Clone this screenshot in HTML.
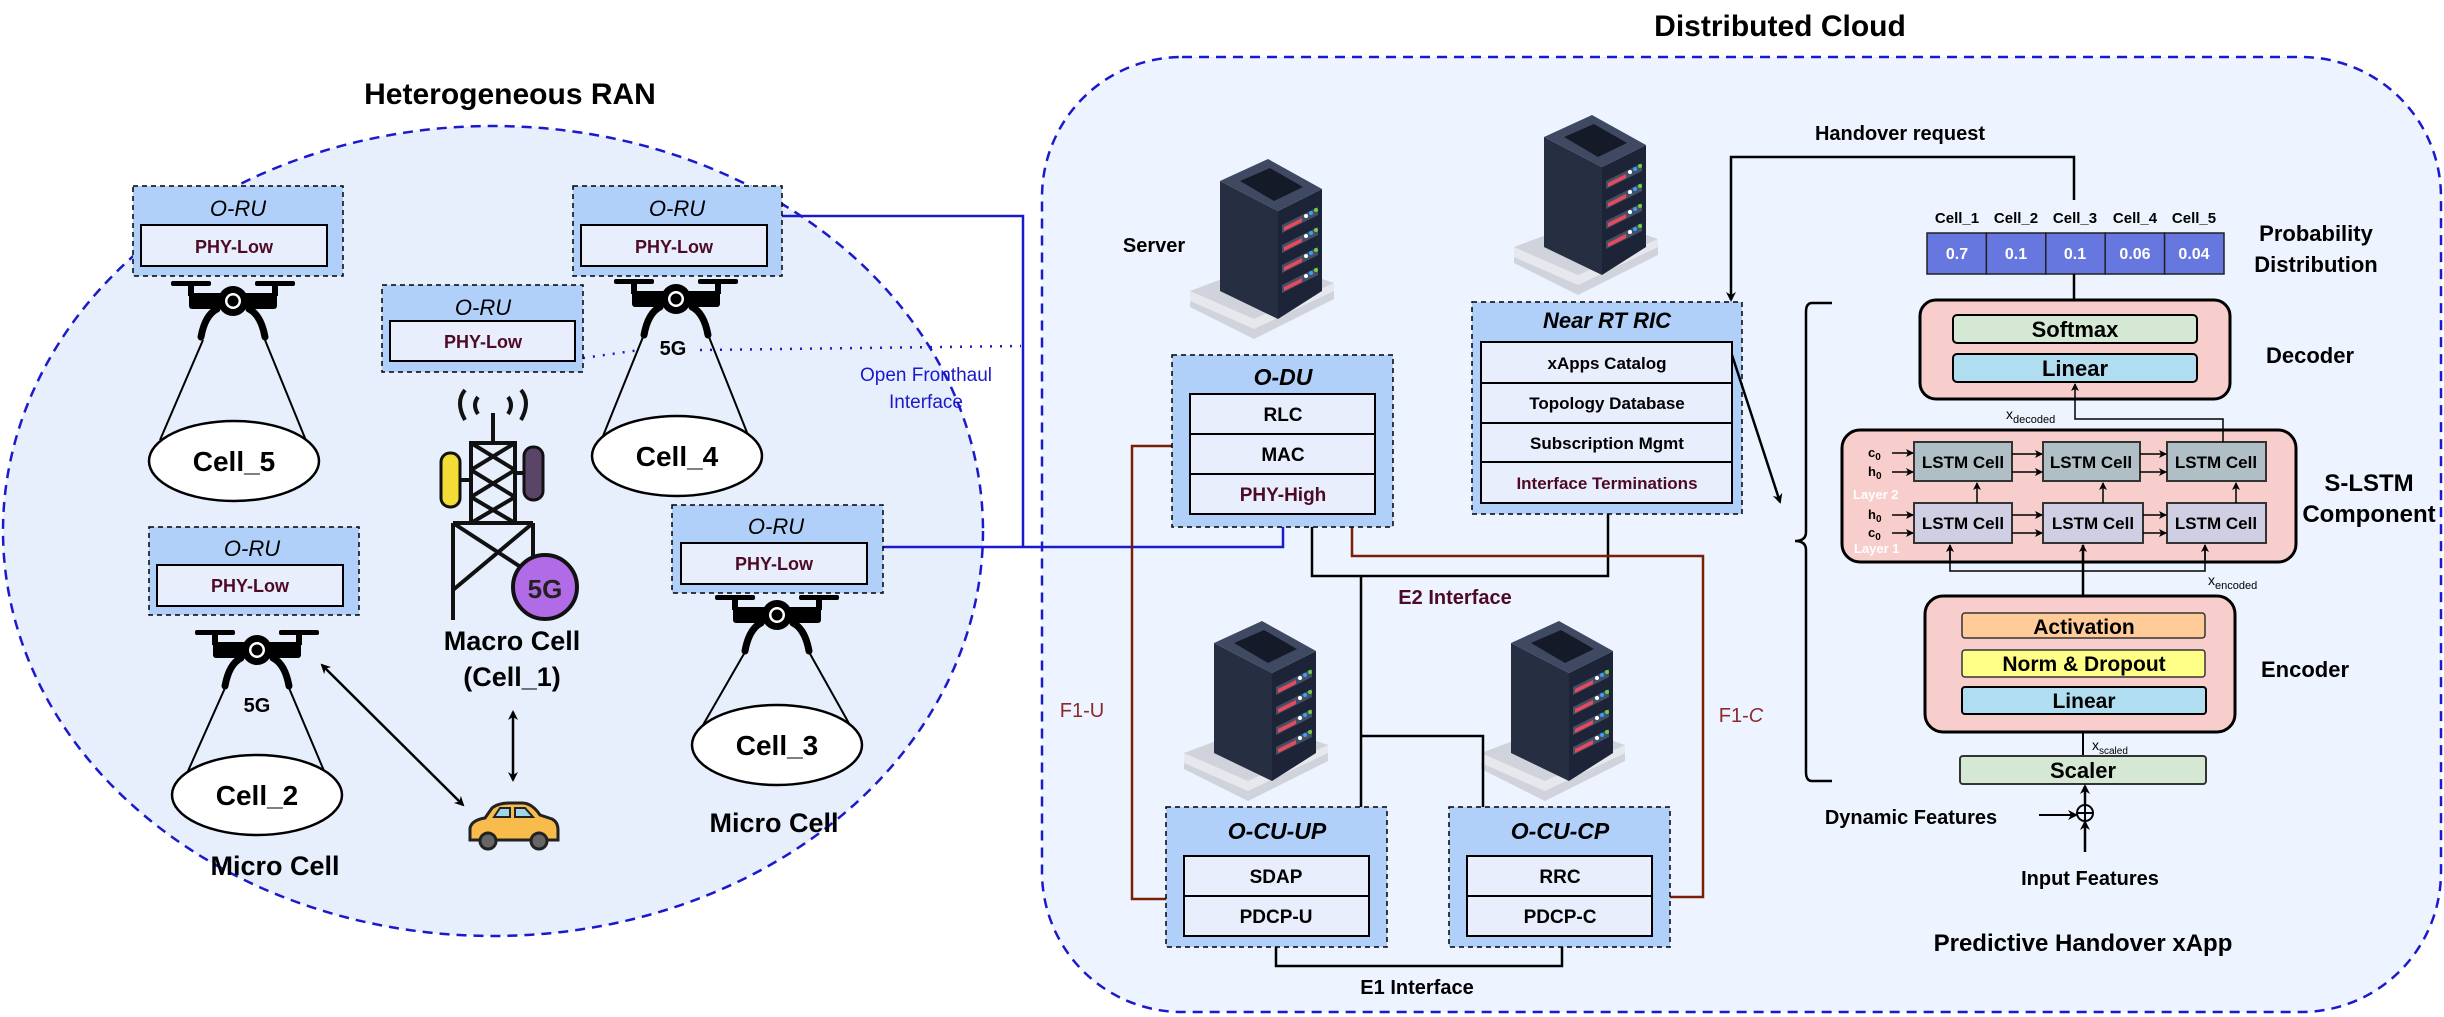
<!DOCTYPE html>
<html><head><meta charset="utf-8"><style>
html,body{margin:0;padding:0;background:#fff;}
svg{display:block;}
text{font-family:"Liberation Sans",sans-serif;}
</style></head><body>
<svg width="2444" height="1017" viewBox="0 0 2444 1017" xmlns="http://www.w3.org/2000/svg">
<defs>
<marker id="ah" markerWidth="10" markerHeight="10" refX="8" refY="5" orient="auto-start-reverse" markerUnits="userSpaceOnUse"><path d="M0,0 L10,5 L0,10 L3,5 z" fill="#000"/></marker>
<marker id="ahs" markerWidth="8" markerHeight="8" refX="7" refY="4" orient="auto" markerUnits="userSpaceOnUse"><path d="M0,0 L8,4 L0,8 L2,4 z" fill="#000"/></marker>
<g id="server">
 <polygon points="0,150 80,120 144,142 144,158 64,198 0,166" fill="#d0d3dc"/>
 <polygon points="0,150 64,178 144,142 144,150 64,188 0,160" fill="#e6e8ee"/>
 <polygon points="30,40 30,150 88,178 88,70" fill="#262e42"/>
 <polygon points="88,70 132,48 132,150 88,178" fill="#1e2438"/>
 <polygon points="30,40 78,18 132,48 88,70" fill="#3f4a62"/>
 <polygon points="50,40 80,27 113,46 84,60" fill="#151a28"/>
 <g>
  <polygon points="92,84 128,66 128,74 92,92" fill="#454f66"/>
  <polygon points="92,104 128,86 128,94 92,112" fill="#454f66"/>
  <polygon points="92,124 128,106 128,114 92,132" fill="#454f66"/>
  <polygon points="92,144 128,126 128,134 92,152" fill="#454f66"/>
  <polygon points="94,86 112,77 112,81 94,90" fill="#e8495b"/>
  <polygon points="94,106 112,97 112,101 94,110" fill="#e8495b"/>
  <polygon points="94,126 112,117 112,121 94,130" fill="#e8495b"/>
  <polygon points="94,146 112,137 112,141 94,150" fill="#e8495b"/>
  <circle cx="116" cy="75" r="2" fill="#fff"/><circle cx="121" cy="72" r="2" fill="#3aa0f0"/><circle cx="126" cy="69" r="2" fill="#6fd048"/>
  <circle cx="116" cy="95" r="2" fill="#fff"/><circle cx="121" cy="92" r="2" fill="#3aa0f0"/><circle cx="126" cy="89" r="2" fill="#6fd048"/>
  <circle cx="116" cy="115" r="2" fill="#fff"/><circle cx="121" cy="112" r="2" fill="#3aa0f0"/><circle cx="126" cy="109" r="2" fill="#6fd048"/>
  <circle cx="116" cy="135" r="2" fill="#fff"/><circle cx="121" cy="132" r="2" fill="#3aa0f0"/><circle cx="126" cy="129" r="2" fill="#6fd048"/>
 </g>
</g>
<g id="drone">
 <rect x="-62" y="-24" width="40" height="5" rx="2" fill="#000"/>
 <rect x="22" y="-24" width="40" height="5" rx="2" fill="#000"/>
 <rect x="-45" y="-21" width="6" height="12" fill="#000"/>
 <rect x="39" y="-21" width="6" height="12" fill="#000"/>
 <rect x="-44" y="-12" width="88" height="16" rx="3" fill="#000"/>
 <circle cx="0" cy="-4" r="15" fill="#000"/>
 <circle cx="0" cy="-4" r="8" fill="#fff"/>
 <circle cx="0" cy="-4" r="5.5" fill="#000"/>
 <path d="M-16,4 Q-28,10 -32,32" stroke="#000" stroke-width="7" fill="none" stroke-linecap="round"/>
 <path d="M16,4 Q28,10 32,32" stroke="#000" stroke-width="7" fill="none" stroke-linecap="round"/>
</g>
</defs>

<ellipse cx="493" cy="531" rx="490" ry="405" fill="#e7eefc" stroke="#1a1acc" stroke-width="2.5" stroke-dasharray="10,7"/>
<text x="510" y="104" font-size="30" font-weight="bold" text-anchor="middle" fill="#000">Heterogeneous RAN</text>

<rect x="1042" y="57" width="1399" height="955" rx="140" ry="140" fill="#edf4ff" stroke="#1a1acc" stroke-width="2.5" stroke-dasharray="10,7"/>
<text x="1780" y="36" font-size="30" font-weight="bold" text-anchor="middle">Distributed Cloud</text>

<polyline points="782,216 1023,216 1023,547" fill="none" stroke="#1a1acc" stroke-width="2.5"/>
<polyline points="883,547 1283,547 1283,527" fill="none" stroke="#1a1acc" stroke-width="2.5"/>
<path d="M583,358 L640,350 M700,350 L1021,346" stroke="#1a1acc" stroke-width="2.5" stroke-dasharray="2,8" fill="none"/>
<text x="926" y="381" font-size="19" fill="#1a1acc" text-anchor="middle">Open Fronthaul</text>
<text x="926" y="408" font-size="19" fill="#1a1acc" text-anchor="middle">Interface</text>

<g font-size="20">
 <g>
  <rect x="133" y="186" width="210" height="90" fill="#b0d0fa" stroke="#000" stroke-width="1.5" stroke-dasharray="5,4"/>
  <text x="238" y="216" font-size="22" font-style="italic" text-anchor="middle">O-RU</text>
  <rect x="141" y="225" width="186" height="41" fill="#e8eefc" stroke="#000" stroke-width="2"/>
  <text x="234" y="253" font-size="18" font-weight="bold" fill="#4d0a26" text-anchor="middle">PHY-Low</text>
 </g>
 <g>
  <rect x="573" y="186" width="209" height="90" fill="#b0d0fa" stroke="#000" stroke-width="1.5" stroke-dasharray="5,4"/>
  <text x="677" y="216" font-size="22" font-style="italic" text-anchor="middle">O-RU</text>
  <rect x="581" y="225" width="186" height="41" fill="#e8eefc" stroke="#000" stroke-width="2"/>
  <text x="674" y="253" font-size="18" font-weight="bold" fill="#4d0a26" text-anchor="middle">PHY-Low</text>
 </g>
 <g>
  <rect x="382" y="285" width="201" height="87" fill="#b0d0fa" stroke="#000" stroke-width="1.5" stroke-dasharray="5,4"/>
  <text x="483" y="315" font-size="22" font-style="italic" text-anchor="middle">O-RU</text>
  <rect x="390" y="321" width="185" height="40" fill="#e8eefc" stroke="#000" stroke-width="2"/>
  <text x="483" y="348" font-size="18" font-weight="bold" fill="#4d0a26" text-anchor="middle">PHY-Low</text>
 </g>
 <g>
  <rect x="149" y="527" width="210" height="88" fill="#b0d0fa" stroke="#000" stroke-width="1.5" stroke-dasharray="5,4"/>
  <text x="252" y="556" font-size="22" font-style="italic" text-anchor="middle">O-RU</text>
  <rect x="157" y="565" width="186" height="41" fill="#e8eefc" stroke="#000" stroke-width="2"/>
  <text x="250" y="592" font-size="18" font-weight="bold" fill="#4d0a26" text-anchor="middle">PHY-Low</text>
 </g>
 <g>
  <rect x="672" y="505" width="211" height="88" fill="#b0d0fa" stroke="#000" stroke-width="1.5" stroke-dasharray="5,4"/>
  <text x="776" y="534" font-size="22" font-style="italic" text-anchor="middle">O-RU</text>
  <rect x="681" y="543" width="186" height="41" fill="#e8eefc" stroke="#000" stroke-width="2"/>
  <text x="774" y="570" font-size="18" font-weight="bold" fill="#4d0a26" text-anchor="middle">PHY-Low</text>
 </g>
</g>

<g stroke="#000" stroke-width="2" fill="none">
 <line x1="203" y1="340" x2="160" y2="440"/><line x1="265" y1="340" x2="307" y2="443"/>
 <line x1="643" y1="337" x2="603" y2="436"/><line x1="709" y1="337" x2="750" y2="440"/>
 <line x1="225" y1="688" x2="184" y2="780"/><line x1="289" y1="688" x2="330" y2="785"/>
 <line x1="745" y1="652" x2="703" y2="725"/><line x1="809" y1="652" x2="851" y2="727"/>
</g>
<use href="#drone" transform="translate(233,305)"/>
<use href="#drone" transform="translate(676,303)"/>
<use href="#drone" transform="translate(257,654)"/>
<use href="#drone" transform="translate(777,619)"/>
<g stroke="#000" stroke-width="2.5" fill="#fff">
 <ellipse cx="234" cy="461" rx="85" ry="40"/>
 <ellipse cx="677" cy="456" rx="85" ry="40"/>
 <ellipse cx="257" cy="795" rx="85" ry="40"/>
 <ellipse cx="777" cy="745" rx="85" ry="40"/>
</g>
<g font-size="28" font-weight="bold" text-anchor="middle">
 <text x="234" y="471">Cell_5</text>
 <text x="677" y="466">Cell_4</text>
 <text x="257" y="805">Cell_2</text>
 <text x="777" y="755">Cell_3</text>
</g>
<text x="673" y="355" font-size="20" font-weight="bold" text-anchor="middle">5G</text>
<text x="257" y="712" font-size="20" font-weight="bold" text-anchor="middle">5G</text>
<text x="275" y="875" font-size="27" font-weight="bold" text-anchor="middle">Micro Cell</text>
<text x="774" y="832" font-size="27" font-weight="bold" text-anchor="middle">Micro Cell</text>

<g stroke="#111" stroke-width="4" fill="none">
 <path d="M465,390 Q455,402 465,420 M478,397 Q472,405 478,414 M521,390 Q531,402 521,420 M508,397 Q514,405 508,414"/>
 <line x1="493" y1="413" x2="493" y2="443"/>
 <rect x="471" y="443" width="44" height="80"/>
 <path d="M471,443 L515,470 M515,443 L471,470 M471,470 L515,497 M515,470 L471,497 M471,497 L515,523 M515,497 L471,523"/>
 <path d="M453,523 L533,523 M453,523 L453,620 M533,523 L533,560 M453,523 L533,575 M533,523 L453,590"/>
 <line x1="460" y1="480" x2="471" y2="480"/><line x1="515" y1="473" x2="524" y2="473"/>
</g>
<rect x="441" y="453" width="19" height="54" rx="9" fill="#f2dc35" stroke="#111" stroke-width="3"/>
<rect x="524" y="447" width="19" height="53" rx="9" fill="#5a4468" stroke="#111" stroke-width="3"/>
<circle cx="545" cy="587" r="32" fill="#b26be6" stroke="#111" stroke-width="4"/>
<text x="545" y="598" font-size="26" font-weight="bold" text-anchor="middle" fill="#222">5G</text>
<text x="512" y="650" font-size="27" font-weight="bold" text-anchor="middle">Macro Cell</text>
<text x="512" y="686" font-size="27" font-weight="bold" text-anchor="middle">(Cell_1)</text>
<line x1="513" y1="712" x2="513" y2="780" stroke="#000" stroke-width="2.5" marker-start="url(#ah)" marker-end="url(#ah)"/>
<line x1="322" y1="665" x2="463" y2="805" stroke="#000" stroke-width="2.5" marker-start="url(#ah)" marker-end="url(#ah)"/>
<g stroke="#222" stroke-width="3">
 <path d="M470,840 L470,828 Q472,820 485,818 L492,808 Q498,803 510,803 L522,803 Q532,803 540,815 L552,819 Q558,822 558,830 L558,840 Z" fill="#f7bc4c"/>
 <path d="M494,817 L500,808 L510,808 L510,817 Z M515,808 L525,808 L533,817 L515,817 Z" fill="#9fd6e8" stroke-width="2"/>
 <circle cx="488" cy="841" r="8" fill="#666"/><circle cx="539" cy="841" r="8" fill="#666"/>
</g>

<use href="#server" transform="translate(1190,141)"/>
<use href="#server" transform="translate(1514,97)"/>
<use href="#server" transform="translate(1184,603)"/>
<use href="#server" transform="translate(1481,603)"/>
<text x="1154" y="252" font-size="20" font-weight="bold" text-anchor="middle">Server</text>

<polyline points="1312,527 1312,576 1608,576 1608,514" fill="none" stroke="#000" stroke-width="2.5"/>
<polyline points="1361,576 1361,807" fill="none" stroke="#000" stroke-width="2.5"/>
<polyline points="1361,736 1483,736 1483,807" fill="none" stroke="#000" stroke-width="2.5"/>
<polyline points="1352,527 1352,556 1703,556 1703,897 1670,897" fill="none" stroke="#7a1e05" stroke-width="2.5"/>
<polyline points="1172,446 1132,446 1132,899 1166,899" fill="none" stroke="#7a1e05" stroke-width="2.5"/>
<polyline points="1276,947 1276,966 1562,966 1562,947" fill="none" stroke="#000" stroke-width="2.5"/>
<text x="1455" y="604" font-size="20" font-weight="bold" fill="#4d0a26" text-anchor="middle">E2 Interface</text>
<text x="1417" y="994" font-size="20" font-weight="bold" text-anchor="middle">E1 Interface</text>
<text x="1082" y="717" font-size="20" fill="#8b2a2a" text-anchor="middle">F1-U</text>
<text x="1741" y="722" font-size="20" fill="#8b2a2a" text-anchor="middle">F1-<tspan font-style="italic">C</tspan></text>

<rect x="1172" y="355" width="221" height="172" fill="#b0d0fa" stroke="#000" stroke-width="1.5" stroke-dasharray="5,4"/>
<text x="1283" y="385" font-size="23" font-weight="bold" font-style="italic" text-anchor="middle">O-DU</text>
<g stroke="#000" stroke-width="2" fill="#e8eefc">
 <rect x="1190" y="394" width="185" height="40"/><rect x="1190" y="434" width="185" height="40"/><rect x="1190" y="474" width="185" height="40"/>
</g>
<g font-size="19" font-weight="bold" text-anchor="middle">
 <text x="1283" y="421">RLC</text><text x="1283" y="461">MAC</text><text x="1283" y="501" fill="#4d0a26">PHY-High</text>
</g>

<rect x="1472" y="302" width="270" height="212" fill="#b0d0fa" stroke="#000" stroke-width="1.5" stroke-dasharray="5,4"/>
<text x="1607" y="328" font-size="22" font-weight="bold" font-style="italic" text-anchor="middle">Near RT RIC</text>
<g stroke="#000" stroke-width="2" fill="#e8eefc">
 <rect x="1481" y="342" width="251" height="41"/><rect x="1481" y="383" width="251" height="40"/><rect x="1481" y="423" width="251" height="39"/><rect x="1481" y="462" width="251" height="41"/>
</g>
<g font-size="17" font-weight="bold" text-anchor="middle">
 <text x="1607" y="369">xApps Catalog</text><text x="1607" y="409">Topology Database</text><text x="1607" y="449">Subscription Mgmt</text><text x="1607" y="489" fill="#4d0a26">Interface Terminations</text>
</g>

<rect x="1166" y="807" width="221" height="140" fill="#b0d0fa" stroke="#000" stroke-width="1.5" stroke-dasharray="5,4"/>
<text x="1277" y="839" font-size="23" font-weight="bold" font-style="italic" text-anchor="middle">O-CU-UP</text>
<g stroke="#000" stroke-width="2" fill="#e8eefc"><rect x="1184" y="856" width="185" height="40"/><rect x="1184" y="896" width="185" height="40"/></g>
<g font-size="19" font-weight="bold" text-anchor="middle"><text x="1276" y="883">SDAP</text><text x="1276" y="923">PDCP-U</text></g>

<rect x="1449" y="807" width="221" height="140" fill="#b0d0fa" stroke="#000" stroke-width="1.5" stroke-dasharray="5,4"/>
<text x="1560" y="839" font-size="23" font-weight="bold" font-style="italic" text-anchor="middle">O-CU-CP</text>
<g stroke="#000" stroke-width="2" fill="#e8eefc"><rect x="1467" y="856" width="185" height="40"/><rect x="1467" y="896" width="185" height="40"/></g>
<g font-size="19" font-weight="bold" text-anchor="middle"><text x="1560" y="883">RRC</text><text x="1560" y="923">PDCP-C</text></g>

<polyline points="2074,200 2074,157 1731,157 1731,300" fill="none" stroke="#000" stroke-width="2.5" marker-end="url(#ah)"/>
<text x="1900" y="140" font-size="20" font-weight="bold" text-anchor="middle">Handover request</text>
<line x1="1732" y1="355" x2="1780" y2="502" stroke="#000" stroke-width="2.5" marker-end="url(#ah)"/>

<g font-size="15" font-weight="bold" text-anchor="middle">
 <text x="1957" y="223">Cell_1</text><text x="2016" y="223">Cell_2</text><text x="2075" y="223">Cell_3</text><text x="2135" y="223">Cell_4</text><text x="2194" y="223">Cell_5</text>
</g>
<g stroke="#222" stroke-width="1.5" fill="#6677e0">
 <rect x="1927" y="233" width="59.4" height="41"/><rect x="1986.4" y="233" width="59.4" height="41"/><rect x="2045.8" y="233" width="59.4" height="41"/><rect x="2105.2" y="233" width="59.4" height="41"/><rect x="2164.6" y="233" width="59.4" height="41"/>
</g>
<g font-size="16" font-weight="bold" fill="#fff" text-anchor="middle">
 <text x="1957" y="259">0.7</text><text x="2016" y="259">0.1</text><text x="2075" y="259">0.1</text><text x="2135" y="259">0.06</text><text x="2194" y="259">0.04</text>
</g>
<text x="2316" y="241" font-size="22" font-weight="bold" text-anchor="middle">Probability</text>
<text x="2316" y="272" font-size="22" font-weight="bold" text-anchor="middle">Distribution</text>
<line x1="2074" y1="274" x2="2074" y2="315" stroke="#000" stroke-width="2.5"/>

<path d="M1832,303 L1812,303 Q1806,303 1806,312 L1806,532 Q1806,541 1795,541 Q1806,541 1806,550 L1806,772 Q1806,781 1812,781 L1832,781" fill="none" stroke="#000" stroke-width="2.5"/>

<rect x="1920" y="300" width="310" height="99" rx="16" fill="#f8cecc" stroke="#000" stroke-width="3"/>
<rect x="1953" y="315" width="244" height="28" rx="4" fill="#d5e8d4" stroke="#000" stroke-width="2"/>
<rect x="1953" y="354" width="244" height="28" rx="4" fill="#b1ddf0" stroke="#000" stroke-width="2"/>
<text x="2075" y="337" font-size="22" font-weight="bold" text-anchor="middle">Softmax</text>
<text x="2075" y="376" font-size="22" font-weight="bold" text-anchor="middle">Linear</text>
<text x="2310" y="363" font-size="22" font-weight="bold" text-anchor="middle">Decoder</text>
<text x="2006" y="419" font-size="14">x<tspan font-size="11" dy="4">decoded</tspan></text>

<rect x="1842" y="430" width="454" height="132" rx="18" fill="#f8cecc" stroke="#000" stroke-width="3"/>
<g stroke="#333" stroke-width="2">
 <rect x="1914" y="442" width="98" height="39" fill="#b0bec5"/><rect x="2043" y="442" width="97" height="39" fill="#b0bec5"/><rect x="2167" y="442" width="99" height="39" fill="#b0bec5"/>
 <rect x="1914" y="503" width="98" height="40" fill="#d0cee2"/><rect x="2043" y="503" width="100" height="40" fill="#d0cee2"/><rect x="2167" y="503" width="99" height="40" fill="#d0cee2"/>
</g>
<g font-size="17" font-weight="bold" text-anchor="middle">
 <text x="1963" y="468">LSTM Cell</text><text x="2091" y="468">LSTM Cell</text><text x="2216" y="468">LSTM Cell</text>
 <text x="1963" y="529">LSTM Cell</text><text x="2093" y="529">LSTM Cell</text><text x="2216" y="529">LSTM Cell</text>
</g>
<g stroke="#000" stroke-width="1.5" fill="none" marker-end="url(#ahs)">
 <line x1="1892" y1="453" x2="1913" y2="453"/><line x1="1892" y1="472" x2="1913" y2="472"/>
 <line x1="1892" y1="515" x2="1913" y2="515"/><line x1="1892" y1="533" x2="1913" y2="533"/>
 <line x1="2012" y1="454" x2="2042" y2="454"/><line x1="2012" y1="472" x2="2042" y2="472"/>
 <line x1="2140" y1="454" x2="2166" y2="454"/><line x1="2140" y1="472" x2="2166" y2="472"/>
 <line x1="2012" y1="515" x2="2042" y2="515"/><line x1="2012" y1="533" x2="2042" y2="533"/>
 <line x1="2143" y1="515" x2="2166" y2="515"/><line x1="2143" y1="533" x2="2166" y2="533"/>
 <line x1="1977" y1="503" x2="1977" y2="483"/><line x1="2103" y1="503" x2="2103" y2="483"/><line x1="2236" y1="503" x2="2236" y2="483"/>
</g>
<g font-size="13" font-weight="bold">
 <text x="1868" y="457">c<tspan font-size="10" dy="3">0</tspan></text><text x="1868" y="476">h<tspan font-size="10" dy="3">0</tspan></text>
 <text x="1868" y="519">h<tspan font-size="10" dy="3">0</tspan></text><text x="1868" y="537">c<tspan font-size="10" dy="3">0</tspan></text>
</g>
<text x="1853" y="499" font-size="13" font-weight="bold" fill="#fff">Layer 2</text>
<text x="1854" y="553" font-size="13" font-weight="bold" fill="#fff">Layer 1</text>
<text x="2369" y="491" font-size="24" font-weight="bold" text-anchor="middle">S-LSTM</text>
<text x="2369" y="522" font-size="24" font-weight="bold" text-anchor="middle">Component</text>
<polyline points="2223,442 2223,419 2075,419 2075,384" fill="none" stroke="#000" stroke-width="1.5" marker-end="url(#ahs)"/>

<line x1="2083" y1="596" x2="2083" y2="545" stroke="#000" stroke-width="2.5" marker-end="url(#ahs)"/>
<polyline points="1950,545 1950,571 2205,571 2205,545" fill="none" stroke="#000" stroke-width="1.5"/>
<line x1="1950" y1="560" x2="1950" y2="545" stroke="#000" stroke-width="1.5" marker-end="url(#ahs)"/>
<line x1="2205" y1="560" x2="2205" y2="545" stroke="#000" stroke-width="1.5" marker-end="url(#ahs)"/>
<text x="2208" y="585" font-size="14">x<tspan font-size="11" dy="4">encoded</tspan></text>
<rect x="1925" y="596" width="310" height="136" rx="18" fill="#f8cecc" stroke="#000" stroke-width="3"/>
<rect x="1962" y="613" width="243" height="25" rx="3" fill="#ffcc99" stroke="#333" stroke-width="1.5"/>
<rect x="1962" y="650" width="243" height="27" rx="3" fill="#ffff88" stroke="#333" stroke-width="1.5"/>
<rect x="1962" y="687" width="244" height="27" rx="3" fill="#b1ddf0" stroke="#000" stroke-width="2"/>
<text x="2084" y="634" font-size="21" font-weight="bold" text-anchor="middle">Activation</text>
<text x="2084" y="671" font-size="21" font-weight="bold" text-anchor="middle">Norm &amp; Dropout</text>
<text x="2084" y="708" font-size="21" font-weight="bold" text-anchor="middle">Linear</text>
<text x="2305" y="677" font-size="22" font-weight="bold" text-anchor="middle">Encoder</text>
<line x1="2083" y1="732" x2="2083" y2="756" stroke="#000" stroke-width="2"/>
<text x="2092" y="750" font-size="14">x<tspan font-size="10" dy="4">scaled</tspan></text>
<rect x="1960" y="756" width="246" height="28" rx="3" fill="#d5e8d4" stroke="#333" stroke-width="2"/>
<text x="2083" y="778" font-size="22" font-weight="bold" text-anchor="middle">Scaler</text>
<circle cx="2085" cy="813" r="8" fill="none" stroke="#000" stroke-width="2"/>
<path d="M2077,813 L2093,813 M2085,805 L2085,821" stroke="#000" stroke-width="2"/>
<line x1="2085" y1="805" x2="2085" y2="786" stroke="#000" stroke-width="2.5" marker-end="url(#ah)"/>
<line x1="2085" y1="852" x2="2085" y2="822" stroke="#000" stroke-width="2.5" marker-end="url(#ah)"/>
<line x1="2039" y1="815" x2="2076" y2="815" stroke="#000" stroke-width="2" marker-end="url(#ah)"/>
<text x="1911" y="824" font-size="20" font-weight="bold" text-anchor="middle">Dynamic Features</text>
<text x="2090" y="885" font-size="20" font-weight="bold" text-anchor="middle">Input Features</text>
<text x="2083" y="951" font-size="24" font-weight="bold" text-anchor="middle">Predictive Handover xApp</text>
</svg>
</body></html>
